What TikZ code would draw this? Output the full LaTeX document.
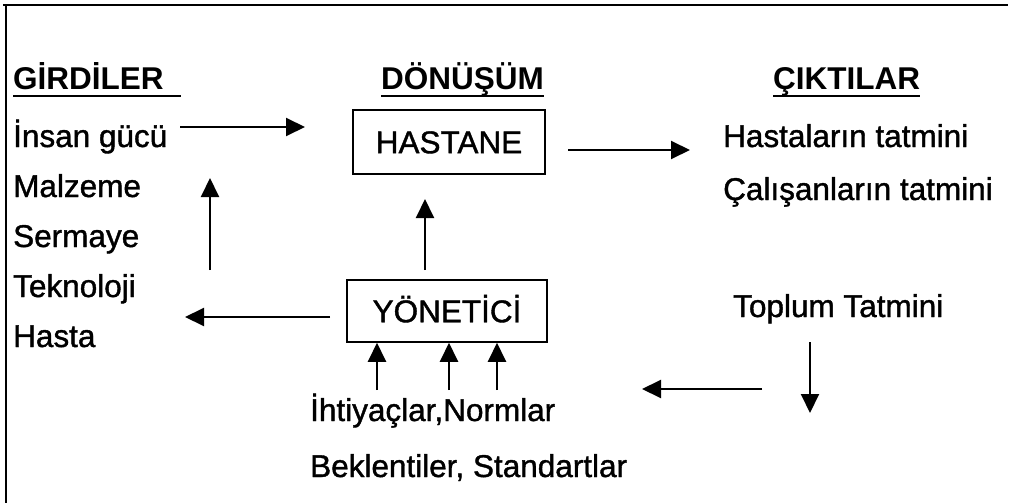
\documentclass[tikz,border=0pt]{standalone}
\usepackage{fontspec}
\setmainfont{Liberation Sans}
\newfontfamily\bodyfont{Liberation Sans}[FakeBold=1.2]
\usetikzlibrary{arrows.meta}
\begin{document}
\begin{tikzpicture}[x=1pt,y=-1pt,
  txt/.style={anchor=base west, inner sep=0pt, font=\bodyfont\fontsize{31.5}{36}\selectfont},
  head/.style={anchor=base west, inner sep=0pt, font=\fontsize{31.5}{36}\selectfont\bfseries},
  box/.style={draw, line width=1.5pt, inner sep=0pt, font=\bodyfont\fontsize{31.5}{36}\selectfont,
              text height=22.5pt, text depth=0pt},
  arr/.style={line width=2pt, -{Triangle[length=19pt, width=18pt]}},
  uline/.style={line width=2.5pt},
  frameline/.style={line width=2pt}]
\useasboundingbox (0,0) rectangle (1013,503);

% open frame: top and left edges only
\draw[frameline] (3,5) -- (1008,5);
\draw[frameline] (6,5) -- (6,503);

% column headings
\node[head] (gir) at (13,90) {GİRDİLER};
\node[head] (don) at (381,90) {DÖNÜŞÜM};
\node[head] (cik) at (773,90) {ÇIKTILAR};
\draw[uline] ([yshift=-6pt]gir.base west) -- ([yshift=-6pt,xshift=17pt]gir.base east);
\draw[uline] ([yshift=-6pt]don.base west) -- ([yshift=-6pt]don.base east);
\draw[uline] ([yshift=-6pt]cik.base west) -- ([yshift=-6pt]cik.base east);

% inputs
\node[txt] (ins) at (13,147) {İnsan gücü};
\node[txt] (mal) at (13,197) {Malzeme};
\node[txt] (ser) at (13,247) {Sermaye};
\node[txt] (tek) at (13,297) {Teknoloji};
\node[txt] (has) at (13,347) {Hasta};

% transformation boxes
\node[box, minimum width=192pt, minimum height=64pt] (hast) at (449,142) {HASTANE};
\node[box, minimum width=200pt, minimum height=62pt] (yon) at (447,311) {YÖNETİCİ};

% outputs
\node[txt] (hta) at (723,147) {Hastaların tatmini};
\node[txt] (cal) at (723,200) {Çalışanların tatmini};
\node[txt] (top) at (733,317) {Toplum Tatmini};

% needs and standards
\node[txt] (iht) at (310,421) {İhtiyaçlar,Normlar};
\node[txt] (bek) at (310,477) {Beklentiler, Standartlar};

% free arrow ends
\coordinate (insA) at (180,127);
\coordinate (insB) at (305,127);
\coordinate (hasA) at (568,150);
\coordinate (hasB) at (690,150);
\coordinate (upA) at (210,270);
\coordinate (upB) at (210,178);
\coordinate (midA) at (425,270);
\coordinate (midB) at (425,199);
\coordinate (lftA) at (330,317);
\coordinate (lftB) at (185,317);
\coordinate (dwnA) at (810,342);
\coordinate (dwnB) at (810,413);
\coordinate (fbA) at (762,389);
\coordinate (fbB) at (642,389);
\coordinate (n1) at (377,390);
\coordinate (n2) at (449,390);
\coordinate (n3) at (497,390);

% flows
\draw[arr] (insA) -- (insB);
\draw[arr] (hasA) -- (hasB);
\draw[arr] (upA) -- (upB);
\draw[arr] (midA) -- (midB);
\draw[arr] (lftA) -- (lftB);
\draw[arr] (dwnA) -- (dwnB);
\draw[arr] (fbA) -- (fbB);
\draw[arr] (n1) -- (n1 |- yon.south);
\draw[arr] (n2) -- (n2 |- yon.south);
\draw[arr] (n3) -- (n3 |- yon.south);
\end{tikzpicture}
\end{document}
